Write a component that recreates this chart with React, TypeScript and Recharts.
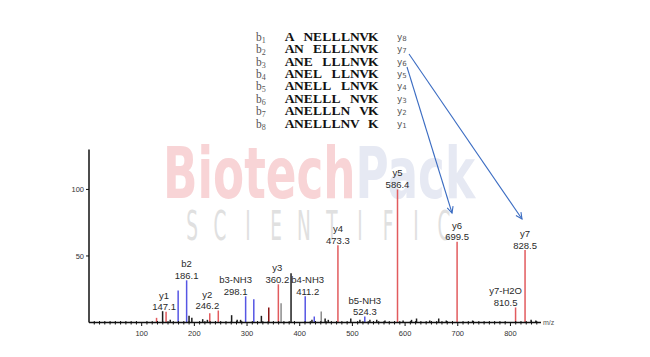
import { BarChart, Bar, XAxis, YAxis, Cell, LabelList } from 'recharts'

// assigned y ions
const yIonNames = ['y1', 'y2', 'y3', 'y4', 'y5', 'y6', 'y7-H2O', 'y7']
const yIonMz = [147.1, 246.2, 360.2, 473.3, 586.4, 699.5, 810.5, 828.5]
const yIonIntensity = [8, 9, 28.7, 58, 100, 60.7, 11.3, 54.4]

// assigned b ions
const bIonNames = ['b2', 'b3-NH3', 'b4-NH3', 'b5-NH3']
const bIonMz = [186.1, 298.1, 411.2, 524.3]
const bIonIntensity = [31.7, 19.7, 19.7, 4.5]

// unlabelled peaks
const extraBlueMz = [170, 313.6, 428.4]
const extraBlueIntensity = [24, 17.4, 4.5]
const extraRedMz = [129, 230]
const extraRedIntensity = [3.5, 7]
const darkRedMz = [342]
const darkRedIntensity = [11.3]
const grayMz = [365.4, 441.6]
const grayIntensity = [14.4, 8.3]
const blackMz = [140.5, 155, 190.7, 196, 216.6, 225.5, 271.5, 282, 288.5, 328, 384.3, 424, 449, 455, 497.7, 515, 534, 547, 562.6, 597, 613, 622.5, 647.6, 664.6, 679, 729, 840, 849]
const blackIntensity = [8.5, 2, 5, 3.5, 2.5, 2, 5.5, 2, 2, 5, 37, 2, 3, 2, 3, 2, 2, 2, 1.5, 1.5, 2, 3, 1.5, 3, 1.5, 1.5, 2, 1.5]

const xTicks = Array.from({ length: 86 }, (_, i) => i * 10)
const yTicks = [50, 100]

// fragment table
const bLabels = ['1', '2', '3', '4', '5', '6', '7', '8']
const fragments = ['A NELLLNVK', 'AN ELLLNVK', 'ANE LLLNVK', 'ANEL LLNVK', 'ANELL LNVK', 'ANELLL NVK', 'ANELLLN VK', 'ANELLLNV K']
const yLabels = ['8', '7', '6', '5', '4', '3', '2', '1']
const watermarkSub = 'SCIENTIFIC'

const RED = '#e25b5e'
const BLUE = '#5656e4'
const BLACK = '#1e1e1e'
const GRAY = '#8c8c8c'
const DARK_RED = '#8a1414'

type Peak = { mz: number; intensity: number; color: string; label: string }

const toPeaks = (mz: number[], val: number[], color: string, names?: string[]): Peak[] =>
  mz.map((m, i) => ({
    mz: m,
    intensity: val[i],
    color,
    label: names ? `${names[i]}|${m.toFixed(1)}` : '',
  }))

const peaks: Peak[] = [
  ...toPeaks(yIonMz, yIonIntensity, RED, yIonNames),
  ...toPeaks(bIonMz, bIonIntensity, BLUE, bIonNames),
  ...toPeaks(extraBlueMz, extraBlueIntensity, BLUE),
  ...toPeaks(extraRedMz, extraRedIntensity, RED),
  ...toPeaks(darkRedMz, darkRedIntensity, DARK_RED),
  ...toPeaks(grayMz, grayIntensity, GRAY),
  ...toPeaks(blackMz, blackIntensity, BLACK),
].sort((a, b) => a.mz - b.mz)

// some labels sit a little off their peak
const labelShift: Record<string, number> = { y2: -11, 'b3-NH3': -10, 'y7-H2O': -10, y1: -2, 'b4-NH3': 2.5, y3: -1 }

const labelFont = 'Liberation Sans, Arial, sans-serif'

function PeakLabel(props: any) {
  const { x, y, width, value } = props
  if (!value) return null
  const [name, mz] = String(value).split('|')
  const cx = Number(x) + Number(width) / 2 + (labelShift[name] ?? 0)
  return (
    <g fontFamily={labelFont} fontSize={9.5} fill="#2a2a2a" textAnchor="middle">
      <text x={cx} y={Number(y) - 13}>{name}</text>
      <text x={cx} y={Number(y) - 1.5}>{mz}</text>
    </g>
  )
}

function MzTick({ x, y, payload }: any) {
  const v = payload.value
  if (v === 0) return null
  const major = v % 100 === 0
  return (
    <g>
      <line x1={x} x2={x} y1={major ? y : y - 1.5} y2={y + (major ? 3.5 : 2)} stroke="#111" strokeWidth={1} />
      {major && (
        <text x={x} y={y + 13.5} textAnchor="middle" fontSize={7.5} fill="#333" fontFamily="Liberation Sans, Arial, sans-serif">
          {v}
        </text>
      )}
    </g>
  )
}

function arrowHead(x1: number, y1: number, x2: number, y2: number) {
  const a = Math.atan2(y2 - y1, x2 - x1)
  const len = 7
  const spread = 0.45
  const p1 = [x2 - len * Math.cos(a - spread), y2 - len * Math.sin(a - spread)]
  const p2 = [x2 - len * Math.cos(a + spread), y2 - len * Math.sin(a + spread)]
  return `M${p1[0]},${p1[1]} L${x2},${y2} L${p2[0]},${p2[1]}`
}

const arrows = [
  [409, 54, 522, 219],
  [407, 67, 452, 213],
]

// fixed pitch for the peptide letters
const CELL = 9.3
const cellX = (s: string) =>
  s
    .split('')
    .map((_, j) => (285 + j * CELL + CELL / 2).toFixed(1))
    .join(' ')

export default function App() {
  return (
    <div style={{ position: 'absolute', left: 0, top: 0, width: 650, height: 357, background: '#fff', overflow: 'hidden' }}>
      {/* watermark */}
      <svg width={650} height={357} style={{ position: 'absolute', left: 0, top: 0 }}>
        <text
          x={163}
          y={198}
          fontFamily="DejaVu Sans, sans-serif"
          fontWeight="bold"
          fontSize={72}
          textLength={312}
          lengthAdjust="spacingAndGlyphs"
        >
          <tspan fill="#f8d4d6">Biotech</tspan>
          <tspan fill="#e6e9f3">Pack</tspan>
        </text>
        <g fontFamily="DejaVu Sans, sans-serif" fontSize={41} fill="#e0e0e0" textAnchor="middle">
          {watermarkSub.split('').map((ch, i) => (
            <text key={i} transform={`translate(${192 + i * 28},240) scale(0.45,1)`}>
              {ch}
            </text>
          ))}
        </g>
      </svg>

      <div style={{ position: 'absolute', left: 0, top: 0 }}>
        <BarChart width={650} height={357} data={peaks} margin={{ top: 149.5, right: 109, bottom: 4.5, left: 49 }}>
          <XAxis
            dataKey="mz"
            type="number"
            domain={[0, 858]}
            ticks={xTicks}
            interval={0}
            tickSize={0}
            tickMargin={0}
            tick={<MzTick />}
            tickLine={false}
            axisLine={{ stroke: '#111', strokeWidth: 1.5 }}
            height={30}
          />
          <YAxis
            type="number"
            domain={[0, 130]}
            ticks={yTicks}
            width={40}
            tickSize={3}
            tickMargin={2}
            tick={{ fontSize: 7.5, fill: '#333', fontFamily: 'Liberation Sans, Arial, sans-serif' }}
            tickLine={{ stroke: '#111' }}
            axisLine={{ stroke: '#111', strokeWidth: 1.5 }}
          />
          <Bar dataKey="intensity" barSize={1.5} isAnimationActive={false}>
            {peaks.map((p, i) => (
              <Cell key={i} fill={p.color} />
            ))}
            <LabelList dataKey="label" content={<PeakLabel />} />
          </Bar>
        </BarChart>
      </div>

      {/* fragment table, arrows, axis unit */}
      <svg width={650} height={357} style={{ position: 'absolute', left: 0, top: 0, pointerEvents: 'none' }}>
        {fragments.map((f, i) => {
          const yb = 40.7 + i * 12.4
          return (
            <g key={i}>
              <text x={256} y={yb} fontFamily="Liberation Serif, serif" fontSize={11.5} fill="#555">
                b<tspan fontSize={8} dy={2}>{bLabels[i]}</tspan>
              </text>
              <text
                x={cellX(f)}
                y={yb}
                fontFamily="Liberation Serif, Times New Roman, serif"
                fontWeight="bold"
                fontSize={13.5}
                fill="#111"
                textAnchor="middle"
                style={{ whiteSpace: 'pre' }}
              >
                {f}
              </text>
              <text x={397} y={yb - 1} fontFamily="DejaVu Sans, Verdana, sans-serif" fontSize={9} fill="#555">
                y<tspan fontSize={7} dy={1}>{yLabels[i]}</tspan>
              </text>
            </g>
          )
        })}
        {arrows.map(([x1, y1, x2, y2], i) => (
          <g key={i} stroke="#3b6cc2" strokeWidth={1.1} fill="none">
            <line x1={x1} y1={y1} x2={x2} y2={y2} />
            <path d={arrowHead(x1, y1, x2, y2)} />
          </g>
        ))}
        <text x={543} y={325} fontSize={7} fill="#555" fontFamily="Liberation Sans, Arial, sans-serif">
          m/z
        </text>
      </svg>
    </div>
  )
}
